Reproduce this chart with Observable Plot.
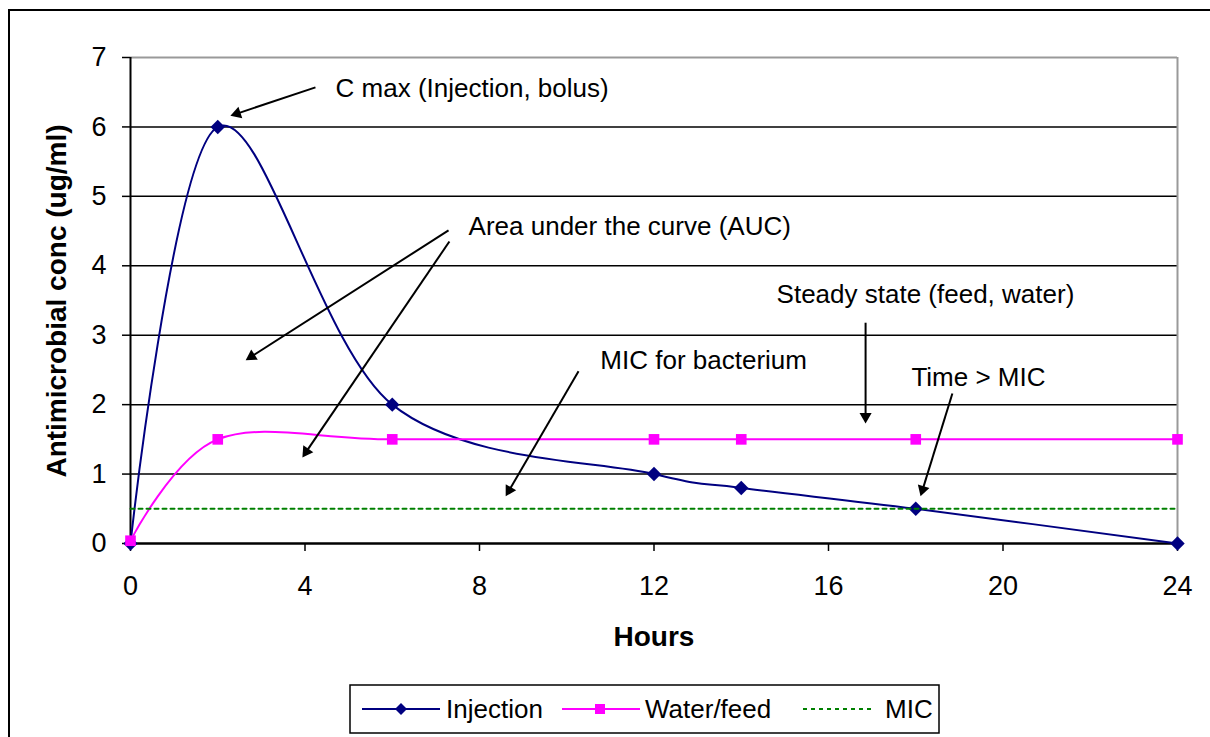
<!DOCTYPE html>
<html>
<head>
<meta charset="utf-8">
<script src="https://cdn.jsdelivr.net/npm/d3@7"></script>
<script src="https://cdn.jsdelivr.net/npm/@observablehq/plot@0.6"></script>
<style>
  body { margin: 0; background: #fff; }
  #wrap { position: relative; width: 1210px; height: 737px; overflow: hidden;
          font-family: Arial, "Liberation Sans", sans-serif; color: #000; }
  #frame { position: absolute; left: 8px; top: 9px; width: 1400px; height: 900px;
           border-top: 2px solid #000; border-left: 2px solid #000; }
  #chart { position: absolute; left: 0; top: 0; }
  .title { position: absolute; font-weight: bold; font-size: 28px; white-space: nowrap; }
  #xtitle { left: 654px; top: 637px; transform: translate(-50%, -50%); }
  #ytitle { left: 57px; top: 301px; transform: translate(-50%, -50%) rotate(-90deg); }
  #legend { position: absolute; left: 349px; top: 684px; }
</style>
</head>
<body>
<div id="wrap">
  <div id="frame"></div>
  <div id="chart"></div>
  <div class="title" id="xtitle">Hours</div>
  <div class="title" id="ytitle">Antimicrobial conc (ug/ml)</div>
  <div id="legend"></div>
</div>
<script>
// ---- data ----
const hours = [0, 2, 6, 12, 14, 18, 24];
const injection = [0, 6, 2, 1, 0.8, 0.5, 0];
const waterFeed = [0.04, 1.5, 1.5, 1.5, 1.5, 1.5, 1.5];
const micHours = [0, 24];
const micLevel = [0.5, 0.5];
const seriesNames = ["Injection", "Water/feed", "MIC"];
const xTicks = [0, 4, 8, 12, 16, 20, 24];
const yTicks = [0, 1, 2, 3, 4, 5, 6, 7];
const gridLevels = [1, 2, 3, 4, 5, 6];

// annotations (data coordinates)
const noteTexts = ["C max (Injection, bolus)", "Area under the curve (AUC)", "Steady state (feed, water)", "MIC for bacterium", "Time > MIC"];
const noteX = [4.70, 7.75, 14.81, 10.77, 17.90];
const noteY = [6.55, 4.57, 3.59, 2.64, 2.39];
const arrowX1 = [4.24, 7.29, 7.31, 10.27, 16.85, 18.84];
const arrowY1 = [6.57, 4.51, 4.35, 2.48, 3.18, 2.16];
const arrowX2 = [2.29, 2.64, 3.94, 8.60, 16.85, 18.11];
const arrowY2 = [6.16, 2.64, 1.24, 0.68, 1.73, 0.68];

// ---- tables ----
const injData = hours.map((h, i) => ({hour: h, value: injection[i]}));
const waterData = hours.map((h, i) => ({hour: h, value: waterFeed[i]}));
const micData = micHours.map((h, i) => ({hour: h, value: micLevel[i]}));
const notes = noteTexts.map((t, i) => ({text: t, x: noteX[i], y: noteY[i]}));
const arrows = arrowX1.map((x, i) => ({x1: x, y1: arrowY1[i], x2: arrowX2[i], y2: arrowY2[i]}));

const NAVY = "#000080", PINK = "#FF00FF", GREEN = "#008000";
const smooth = d3.curveCatmullRom.alpha(0);
const FONT = 'Arial, "Liberation Sans", sans-serif';

function build(extra) {
  return Plot.plot({
    width: 1210, height: 737,
    marginLeft: 130, marginRight: 33, marginTop: 57, marginBottom: 194,
    style: {fontFamily: FONT, fontSize: "24px", color: "#000", background: "transparent"},
    x: {domain: [0, 24]},
    y: {domain: [0, 7]},
    marks: [
      Plot.ruleY(gridLevels, {stroke: "#000", strokeWidth: 1.5}),
      Plot.ruleY([7], {stroke: "#999", strokeWidth: 2}),
      Plot.ruleX([24], {stroke: "#999", strokeWidth: 2}),
      Plot.axisX({ticks: xTicks, tickSize: 8, tickPadding: 24, label: null, fontSize: 27,
        tickFormat: d => String(d), strokeWidth: 1.5, stroke: "#000", fill: "#000"}),
      Plot.axisY({ticks: yTicks, tickSize: 8, tickPadding: 16, label: null, fontSize: 27,
        tickFormat: d => String(d), strokeWidth: 1.5, stroke: "#000", fill: "#000"}),
      Plot.ruleX([0], {stroke: "#000", strokeWidth: 2}),
      Plot.ruleY([0], {stroke: "#000", strokeWidth: 2.5}),
      Plot.line(injData, {x: "hour", y: "value", stroke: NAVY, strokeWidth: 2, curve: smooth}),
      Plot.dot(injData, {x: "hour", y: "value", symbol: "diamond2", r: 6.5, fill: NAVY, stroke: null}),
      Plot.line(waterData, {x: "hour", y: "value", stroke: PINK, strokeWidth: 2, curve: smooth}),
      Plot.dot(waterData, {x: "hour", y: "value", symbol: "square", r: 6, fill: PINK, stroke: null}),
      Plot.line(micData, {x: "hour", y: "value", stroke: GREEN, strokeWidth: 2, strokeDasharray: "4,4"}),
      Plot.text(notes, {x: "x", y: "y", text: "text", textAnchor: "start", fontSize: 26, fill: "#000"}),
      ...extra
    ]
  });
}

// first pass to obtain scales, then add arrows with filled heads
const base = build([]);
const sx = base.scale("x"), sy = base.scale("y");
const tip = 7;
const shafts = [];
const heads = [];
arrows.forEach(a => {
  const px1 = sx.apply(a.x1), py1 = sy.apply(a.y1), px2 = sx.apply(a.x2), py2 = sy.apply(a.y2);
  const len = Math.hypot(px2 - px1, py2 - py1);
  const ux = (px2 - px1) / len, uy = (py2 - py1) / len;
  const angle = Math.atan2(ux, -uy) * 180 / Math.PI;
  shafts.push({x1: a.x1, y1: a.y1, x2: sx.invert(px2 - ux * tip), y2: sy.invert(py2 - uy * tip)});
  heads.push(Plot.dot([a], {x: "x2", y: "y2", symbol: "triangle", r: 4.5, rotate: angle,
    dx: -ux * tip, dy: -uy * tip, fill: "#000", stroke: null}));
});
const chart = build([
  Plot.link(shafts, {x1: "x1", y1: "y1", x2: "x2", y2: "y2", stroke: "#000", strokeWidth: 2}),
  ...heads
]);
document.getElementById("chart").appendChild(chart);

// ---- legend ----
const NS = "http://www.w3.org/2000/svg";
const lg = document.createElementNS(NS, "svg");
lg.setAttribute("width", 592); lg.setAttribute("height", 51);
const mk = (tag, attrs, txt) => { const e = document.createElementNS(NS, tag);
  for (const k in attrs) e.setAttribute(k, attrs[k]); if (txt) e.textContent = txt; lg.appendChild(e); return e; };
mk("rect", {x: 1, y: 1, width: 589, height: 48, fill: "#fff", stroke: "#000", "stroke-width": 1.5});
const items = [
  {name: seriesNames[0], color: NAVY, lx: 13, mx: 52, tx: 97, marker: "diamond"},
  {name: seriesNames[1], color: PINK, lx: 213, mx: 251, tx: 296, marker: "square"},
  {name: seriesNames[2], color: GREEN, lx: 454, mx: null, tx: 536, marker: null}
];
items.forEach(it => {
  const cy = 25;
  if (it.marker) {
    mk("line", {x1: it.lx, x2: it.lx + 78, y1: cy, y2: cy, stroke: it.color, "stroke-width": 2});
    if (it.marker === "diamond") mk("path", {d: `M${it.mx},${cy-6}L${it.mx+6},${cy}L${it.mx},${cy+6}L${it.mx-6},${cy}Z`, fill: it.color});
    else mk("rect", {x: it.mx - 5, y: cy - 5, width: 10, height: 10, fill: it.color});
  } else {
    mk("line", {x1: it.lx, x2: it.lx + 68, y1: cy, y2: cy, stroke: it.color, "stroke-width": 2, "stroke-dasharray": "4,4"});
  }
  mk("text", {x: it.tx, y: cy, "dominant-baseline": "central", "font-size": 26,
    "font-family": FONT, fill: "#000"}, it.name);
});
document.getElementById("legend").appendChild(lg);
</script>
</body>
</html>
